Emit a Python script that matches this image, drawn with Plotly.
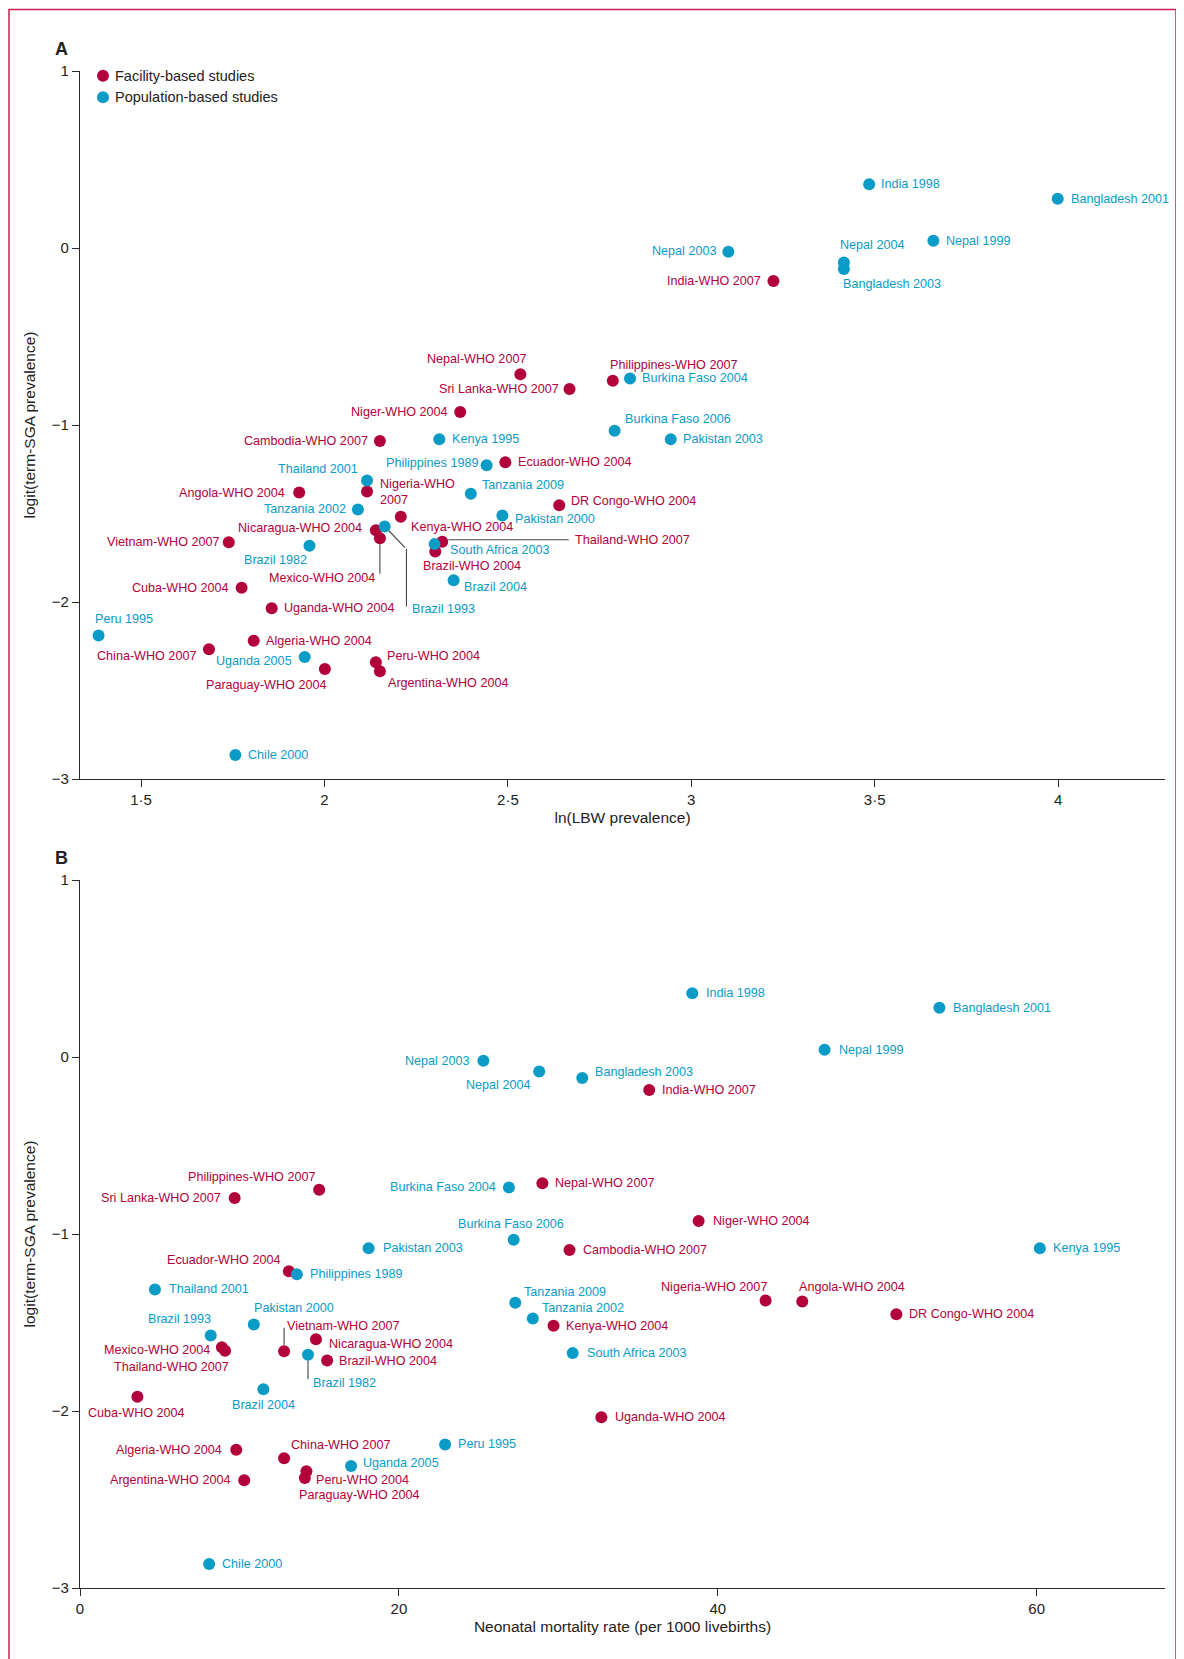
import plotly.graph_objects as go

# ---------------- data ----------------
fac_names = ["Nepal-WHO 2007", "Sri Lanka-WHO 2007", "Niger-WHO 2004", "India-WHO 2007",
             "Philippines-WHO 2007", "Cambodia-WHO 2007", "Ecuador-WHO 2004", "Nigeria-WHO 2007",
             "Angola-WHO 2004", "DR Congo-WHO 2004", "Kenya-WHO 2004", "Nicaragua-WHO 2004",
             "Mexico-WHO 2004", "Vietnam-WHO 2007", "Thailand-WHO 2007", "Brazil-WHO 2004",
             "Cuba-WHO 2004", "Uganda-WHO 2004", "Algeria-WHO 2004", "China-WHO 2007",
             "Paraguay-WHO 2004", "Peru-WHO 2004", "Argentina-WHO 2004"]
fac_lnlbw = [2.534, 2.668, 2.370, 3.224, 2.786, 2.151, 2.493, 2.116, 1.931, 2.640, 2.208, 2.140,
             2.151, 1.739, 2.321, 2.302, 1.774, 1.856, 1.807, 1.685, 2.001, 2.140, 2.151]
fac_nmr = [29.0, 9.7, 38.8, 35.7, 15.0, 30.7, 13.1, 43.0, 45.3, 51.2, 29.7, 14.8,
           8.9, 12.8, 9.1, 15.5, 3.6, 32.7, 9.8, 12.8, 14.1, 14.2, 10.3]
fac_logit = [-0.713, -0.797, -0.927, -0.186, -0.750, -1.090, -1.210, -1.376, -1.382, -1.454,
             -1.518, -1.594, -1.640, -1.662, -1.660, -1.715, -1.920, -2.035, -2.219, -2.267,
             -2.379, -2.340, -2.391]

pop_names = ["India 1998", "Bangladesh 2001", "Nepal 2003", "Nepal 2004", "Bangladesh 2003",
             "Nepal 1999", "Burkina Faso 2004", "Burkina Faso 2006", "Pakistan 2003", "Kenya 1995",
             "Philippines 1989", "Thailand 2001", "Tanzania 2009", "Tanzania 2002", "Pakistan 2000",
             "Brazil 1993", "Brazil 1982", "South Africa 2003", "Brazil 2004", "Peru 1995",
             "Uganda 2005", "Chile 2000"]
pop_lnlbw = [3.485, 3.999, 3.101, 3.416, 3.416, 3.660, 2.833, 2.791, 2.944, 2.313, 2.442, 2.116,
             2.399, 2.091, 2.485, 2.164, 1.959, 2.300, 2.352, 1.384, 1.946, 1.757]
pop_nmr = [38.4, 53.9, 25.3, 28.8, 31.5, 46.7, 26.9, 27.2, 18.1, 60.2, 13.6, 4.7,
           27.3, 28.4, 10.9, 8.2, 14.3, 30.9, 11.5, 22.9, 17.0, 8.1]
pop_logit = [0.360, 0.278, -0.021, -0.082, -0.118, 0.041, -0.737, -1.033, -1.080, -1.080,
             -1.228, -1.313, -1.389, -1.477, -1.511, -1.573, -1.682, -1.673, -1.877, -2.189,
             -2.311, -2.865]

xA_tickvals = [1.5, 2, 2.5, 3, 3.5, 4]
xA_ticktext = ["1·5", "2", "2·5", "3", "3·5", "4"]
xB_tickvals = [0, 20, 40, 60]
y_tickvals = [-3, -2, -1, 0, 1]
y_ticktext = ["−3", "−2", "−1", "0", "1"]

# ---------------- style ----------------
RED = "#B2003A"
BLUE = "#0A9BC7"
AXC = "#2a2a2a"
FRAME = "#C62050"
LBL_FONT = "Liberation Sans, Arial, sans-serif"
AX_FONT = "Liberation Sans, Arial, sans-serif"
LBL_SIZE = 12.6

W, H = 1184, 1659
OFF = 8  # page body margin
# plot area in screenshot pixels
X_LEFT, X_RIGHT, Y_TOP, Y_BOT = 80, 1165, 71, 1588
ML = X_LEFT - OFF
MR = W - (X_RIGHT - OFF)
MT = Y_TOP - OFF
MB = H - (Y_BOT - OFF)
PW, PH = X_RIGHT - X_LEFT, Y_BOT - Y_TOP


def px(xs):
    return (xs - X_LEFT) / PW


def py(ys):
    return (Y_BOT - ys) / PH


# label placement: (anchor, xshift, yshift) in pixels
DEFAULT = ("L", 10, 0)
place_A = {
    "Nepal-WHO 2007": ("R", 8, 15), "Sri Lanka-WHO 2007": ("R", -9, 0),
    "Niger-WHO 2004": ("R", -10, 0), "India-WHO 2007": ("R", -10, 0),
    "Philippines-WHO 2007": ("L", -5, 16), "Cambodia-WHO 2007": ("R", -10, 0),
    "Ecuador-WHO 2004": ("L", 11, 0), "Nigeria-WHO 2007": ("L", 11, 0),
    "Angola-WHO 2004": ("R", -12, 0), "DR Congo-WHO 2004": ("L", 10, 4),
    "Kenya-WHO 2004": ("L", 8, -10), "Nicaragua-WHO 2004": ("R", -12, 2),
    "Mexico-WHO 2004": ("R", -3, -40), "Vietnam-WHO 2007": ("R", -8, 0),
    "Thailand-WHO 2007": ("L", 131, 2), "Brazil-WHO 2004": ("L", -14, -14),
    "Cuba-WHO 2004": ("R", -11, 0), "Uganda-WHO 2004": ("L", 10, 0),
    "Algeria-WHO 2004": ("L", 10, 0), "China-WHO 2007": ("R", -11, -7),
    "Paraguay-WHO 2004": ("R", 3, -16), "Peru-WHO 2004": ("L", 9, 6),
    "Argentina-WHO 2004": ("L", 6, -12),
    "India 1998": ("L", 10, 0), "Bangladesh 2001": ("L", 11, 0), "Nepal 2003": ("R", -10, 1),
    "Nepal 2004": ("L", -6, 18), "Bangladesh 2003": ("L", -3, -15), "Nepal 1999": ("L", 11, 0),
    "Burkina Faso 2004": ("L", 10, 0), "Burkina Faso 2006": ("L", 8, 12),
    "Pakistan 2003": ("L", 10, 0), "Kenya 1995": ("L", 11, 0), "Philippines 1989": ("R", -7, 2),
    "Thailand 2001": ("R", -7, 11), "Tanzania 2009": ("L", 9, 9), "Tanzania 2002": ("R", -10, 0),
    "Pakistan 2000": ("L", 11, -4), "Brazil 1993": ("L", 25, -83), "Brazil 1982": ("R", 0, -14),
    "South Africa 2003": ("L", 13, -6), "Brazil 2004": ("L", 8, -7), "Peru 1995": ("L", -6, 16),
    "Uganda 2005": ("R", -11, -4), "Chile 2000": ("L", 11, 0),
}
place_B = {
    "Nepal-WHO 2007": ("L", 11, 0), "Sri Lanka-WHO 2007": ("R", -12, 0),
    "Niger-WHO 2004": ("L", 12, 0), "India-WHO 2007": ("L", 11, 0),
    "Philippines-WHO 2007": ("R", -2, 13), "Cambodia-WHO 2007": ("L", 12, 0),
    "Ecuador-WHO 2004": ("R", -7, 11), "Nigeria-WHO 2007": ("R", 3, 14),
    "Angola-WHO 2004": ("L", -5, 15), "DR Congo-WHO 2004": ("L", 11, 0),
    "Kenya-WHO 2004": ("L", 10, 0), "Nicaragua-WHO 2004": ("L", 11, -5),
    "Mexico-WHO 2004": ("R", -10, -3), "Vietnam-WHO 2007": ("L", 1, 25),
    "Thailand-WHO 2007": ("R", 6, -16), "Brazil-WHO 2004": ("L", 10, 0),
    "Cuba-WHO 2004": ("C", -1, -16), "Uganda-WHO 2004": ("L", 12, 0),
    "Algeria-WHO 2004": ("R", -12, 0), "China-WHO 2007": ("L", 5, 13),
    "Paraguay-WHO 2004": ("L", -8, -17), "Peru-WHO 2004": ("L", 8, -9),
    "Argentina-WHO 2004": ("R", -12, 0),
    "India 1998": ("L", 12, 0), "Bangladesh 2001": ("L", 12, 0), "Nepal 2003": ("R", -12, 0),
    "Nepal 2004": ("R", -7, -13), "Bangladesh 2003": ("L", 11, 6), "Nepal 1999": ("L", 12, 0),
    "Burkina Faso 2004": ("R", -11, 0), "Burkina Faso 2006": ("C", -3, 16),
    "Pakistan 2003": ("L", 12, 0), "Kenya 1995": ("L", 11, 0), "Philippines 1989": ("L", 11, 0),
    "Thailand 2001": ("L", 12, 0), "Tanzania 2009": ("L", 7, 11), "Tanzania 2002": ("L", 7, 10),
    "Pakistan 2000": ("L", -2, 16), "Brazil 1993": ("R", 2, 16), "Brazil 1982": ("L", 3, -28),
    "South Africa 2003": ("L", 12, 0), "Brazil 2004": ("C", 0, -16), "Peru 1995": ("L", 11, 0),
    "Uganda 2005": ("L", 10, 3), "Chile 2000": ("L", 11, 0),
}
display_A = {"Nigeria-WHO 2007": "Nigeria-WHO<br>2007"}

# leader lines: (name, xshift, yshift, ax, ay, standoff)
leaders_A = [
    ("Mexico-WHO 2004", 0, 0, 0, 37, 6),
    ("Brazil 1993", 0, 0, 21.8, 22.7, 6),
    ("Brazil 1993", 21.8, -22.7, 0, 59, 0),
    ("Thailand-WHO 2007", 0, 2, 128, 0, 6),
]
leaders_B = [
    ("Vietnam-WHO 2007", 0, 0, 0, -25, 6),
    ("Brazil 1982", 0, 0, 0, 26, 6),
]

AN = {"L": "left", "R": "right", "C": "center"}

fig = go.Figure()
panels = [
    ("x", "y", fac_lnlbw, pop_lnlbw, place_A, display_A, leaders_A),
    ("x2", "y2", fac_nmr, pop_nmr, place_B, {}, leaders_B),
]
annotations = []
for xr, yr, fx, pxs, place, disp, leaders in panels:
    lookup = {}
    for names, xs, ys, col, grp in [(fac_names, fx, fac_logit, RED, "Facility-based studies"),
                                     (pop_names, pxs, pop_logit, BLUE, "Population-based studies")]:
        fig.add_trace(go.Scatter(x=xs, y=ys, mode="markers", name=grp, text=names,
                                 xaxis=xr, yaxis=yr, showlegend=False, hoverinfo="text",
                                 marker=dict(color=col, size=12, line=dict(width=0))))
        for n, xv, yv in zip(names, xs, ys):
            lookup[n] = (xv, yv)
            a, dx, dy = place.get(n, DEFAULT)
            annotations.append(dict(
                x=xv, y=yv, xref=xr, yref=yr, text=disp.get(n, n), showarrow=False,
                xanchor=AN[a], yanchor="middle", xshift=dx, yshift=dy, align="left",
                font=dict(family=LBL_FONT, size=LBL_SIZE, color=col)))
    for n, xs_, ys_, ax, ay, so in leaders:
        xv, yv = lookup[n]
        annotations.append(dict(
            x=xv, y=yv, xref=xr, yref=yr, text="", showarrow=True, arrowhead=0,
            arrowwidth=1.1, arrowcolor="#444444", ax=ax, ay=ay, xshift=xs_, yshift=ys_,
            standoff=so, startstandoff=0))

# panel letters
for letter, ypx in [("A", 49), ("B", 858)]:
    annotations.append(dict(x=px(61), y=py(ypx), xref="paper", yref="paper",
                            text="<b>%s</b>" % letter, showarrow=False,
                            xanchor="center", yanchor="middle",
                            font=dict(family=AX_FONT, size=18, color="#222")))

# legend (manual)
shapes = []
for lbl, col, ypx in [("Facility-based studies", RED, 75.7), ("Population-based studies", BLUE, 97.3)]:
    shapes.append(dict(type="circle", xref="paper", yref="paper", xsizemode="pixel",
                       ysizemode="pixel", xanchor=px(103), yanchor=py(ypx), x0=-6, x1=6,
                       y0=-6, y1=6, fillcolor=col, line=dict(width=0)))
    annotations.append(dict(x=px(113), y=py(ypx), xref="paper", yref="paper", text=lbl,
                            showarrow=False, xanchor="left", yanchor="middle",
                            font=dict(family=AX_FONT, size=14.5, color="#222")))

# outer frame
shapes.append(dict(type="rect", xref="paper", yref="paper", x0=px(9), x1=px(1176),
                   y0=py(1680), y1=py(9.5), line=dict(color=FRAME, width=1.5),
                   fillcolor="rgba(0,0,0,0)", layer="below"))

yA_bot = py(779)
yB_top = py(880)

axis_common = dict(showline=True, linecolor=AXC, linewidth=1.3, ticks="outside", ticklen=7,
                   tickwidth=1.2, tickcolor=AXC, showgrid=False, zeroline=False,
                   automargin=False,
                   tickfont=dict(family=AX_FONT, size=15, color="#222"))
title_font = dict(family=AX_FONT, size=15.5, color="#222")

fig.update_layout(
    width=W, height=H, margin=dict(l=ML, r=MR, t=MT, b=MB, autoexpand=False),
    paper_bgcolor="white", plot_bgcolor="white", showlegend=False,
    annotations=annotations, shapes=shapes,
    xaxis=dict(domain=[0, 1], anchor="y", range=[1.3334, 4.2915], tickvals=xA_tickvals,
               ticktext=xA_ticktext, title=dict(text="ln(LBW prevalence)", font=title_font, standoff=4),
               **axis_common),
    yaxis=dict(domain=[yA_bot, 1], anchor="x", range=[-3, 1], tickvals=y_tickvals,
               ticktext=y_ticktext, title=dict(text="logit(term-SGA prevalence)", font=title_font, standoff=12),
               **axis_common),
    xaxis2=dict(domain=[0, 1], anchor="y2", range=[0, 68.05], tickvals=xB_tickvals,
                title=dict(text="Neonatal mortality rate (per 1000 livebirths)", font=title_font, standoff=4),
                **axis_common),
    yaxis2=dict(domain=[0, yB_top], anchor="x2", range=[-3, 1], tickvals=y_tickvals,
                ticktext=y_ticktext, title=dict(text="logit(term-SGA prevalence)", font=title_font, standoff=12),
                **axis_common),
)

fig.write_html("out.html")
